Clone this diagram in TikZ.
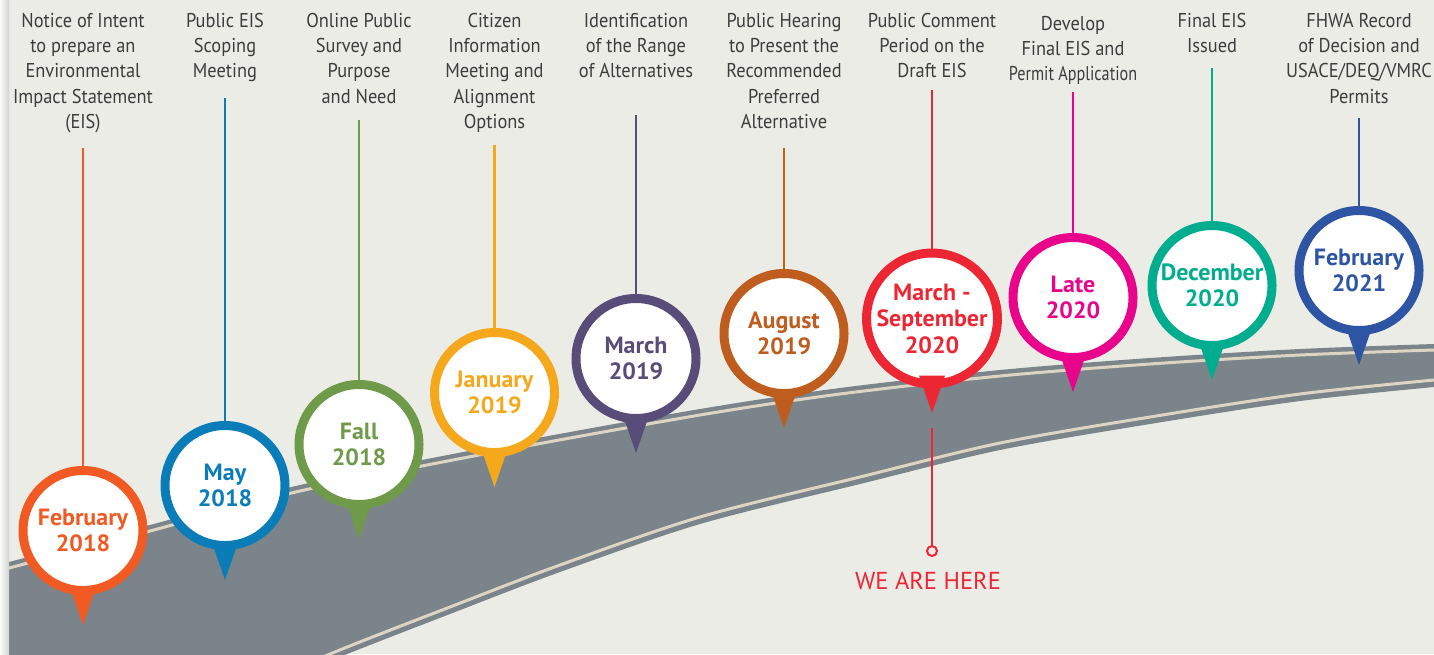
\documentclass[tikz,border=0pt]{standalone}
\usepackage{fontspec}
\usepackage{graphicx}
\newfontfamily\labfont[FakeStretch=0.92]{PT Sans}
\newfontfamily\dtfont[FakeStretch=1.02]{PT Sans}
\newfontfamily\herefont{PT Sans}
\definecolor{bg}{HTML}{ECECE7}
\definecolor{roadc}{HTML}{7A848A}
\definecolor{beige}{HTML}{DDD4C3}
\definecolor{labgray}{HTML}{3D3D3D}
\definecolor{c1}{HTML}{F15A22}
\definecolor{c2}{HTML}{0A7DB8}
\definecolor{c3}{HTML}{6F9A4A}
\definecolor{c4}{HTML}{F5A81C}
\definecolor{c5}{HTML}{584C78}
\definecolor{c6}{HTML}{BF5D1E}
\definecolor{c7}{HTML}{ED2633}
\definecolor{c8}{HTML}{E8058B}
\definecolor{c9}{HTML}{00AD8E}
\definecolor{c10}{HTML}{2D55A4}
\tikzset{
  pinc/.style={circle, fill=white, line width=9pt, minimum size=120pt, inner sep=0pt, outer sep=0pt,
    align=center, font=\dtfont\bfseries\fontsize{23.5}{26.5}\selectfont},
  lab/.style={anchor=north, inner sep=0pt, outer sep=0pt, align=center, text=labgray,
    font=\labfont\fontsize{20}{25.3}\selectfont},
  conn/.style={line width=2.6pt},
  edgeline/.style={draw=beige, line width=3pt},
}
% #1 name, #2 x, #3 y, #4 colour, #5 date, #6 label, #7 label top, #8 line top
\newcommand\mypin[8]{%
  \node[pinc, draw=#4, text=#4] (#1) at (#2,#3) {#5};
  \fill[#4] (#1.center) ++(-13,57) -- ++(26,0) -- ++(-13,37.5) -- cycle;
  \path (#1.center) ++(0,94.5) coordinate (#1tip);
  \node[lab] (#1lab) at (#2,#7) {#6};
  \coordinate (#1top) at (#2,#8);
  \draw[conn, draw=#4] (#1top) -- (#1);
}
\begin{document}
\begin{tikzpicture}[x=1pt,y=-1pt]
\useasboundingbox (0,0) rectangle (1434,654);
\clip (0,0) rectangle (1434,654);
\fill[bg] (0,0) rectangle (1434,654);
% road
\fill[roadc] (0,565) -- plot[smooth] coordinates {(9,562) (150,525) (300,485) (500,445) (700,409) (840,388) (1000,370) (1150,358) (1300,349) (1434,344)}
  -- (1440,344) -- (1440,387)
  -- plot[smooth] coordinates {(1434,387) (1300,401) (1150,424) (1000,450) (860,484) (700,524) (560,572) (450,614) (330,661) (200,717) (100,760) (0,805)}
  -- cycle;
\draw[edgeline] plot[smooth] coordinates {(0,571) (9,568) (150,531) (300,491) (500,451) (700,415) (840,394) (1000,376) (1150,364) (1300,355) (1434,350)};
\draw[edgeline] plot[smooth] coordinates {(1434,380) (1300,394) (1150,417) (1000,443) (860,477) (700,517) (560,565) (450,607) (330,654) (200,710) (100,753) (0,798)};
% left page edge
\shade[left color=white!80!bg, right color=black!18] (0,0) rectangle (9,654);
% pins
\mypin{p1}{83}{530.5}{c1}{February\\2018}{Notice of Intent\\to prepare an\\Environmental\\Impact Statement\\(EIS)}{13}{148}
\mypin{p2}{225}{485.5}{c2}{May\\2018}{Public EIS\\Scoping\\Meeting}{13}{98}
\mypin{p3}{359}{444.5}{c3}{Fall\\2018}{Online Public\\Survey and\\Purpose\\and Need}{13}{120}
\mypin{p4}{494.5}{392.5}{c4}{January\\2019}{Citizen\\Information\\Meeting and\\Alignment\\Options}{13}{145}
\mypin{p5}{636}{358.5}{c5}{March\\2019}{Identification\\of the Range\\of Alternatives}{13}{115}
\mypin{p6}{784}{333.5}{c6}{August\\2019}{Public Hearing\\to Present the\\Recommended\\Preferred\\Alternative}{13}{148}
\mypin{p7}{932}{318.5}{c7}{March -\\September\\2020}{Public Comment\\Period on the\\Draft EIS}{13}{90}
\mypin{p8}{1073}{297.5}{c8}{Late\\2020}{Develop\\Final EIS and\\\scalebox{0.88}[1]{Permit Application}}{16}{92}
\mypin{p9}{1212}{285.5}{c9}{December\\2020}{Final EIS\\Issued}{13}{68}
\mypin{p10}{1359}{270.5}{c10}{February\\2021}{FHWA Record\\of Decision and\\USACE/DEQ/VMRC\\Permits}{13}{118}
% we are here
\node[circle, draw=c7, fill=bg, line width=2pt, minimum size=10pt, inner sep=0pt] (here) at (932,551) {};
\draw[conn, draw=c7, shorten <=15pt] (p7tip) -- (here);
\node[anchor=north, inner sep=0pt, text=c7, font=\herefont\fontsize{24.5}{28}\selectfont] (heretxt) at (928,572) {WE ARE HERE};
\end{tikzpicture}
\end{document}
